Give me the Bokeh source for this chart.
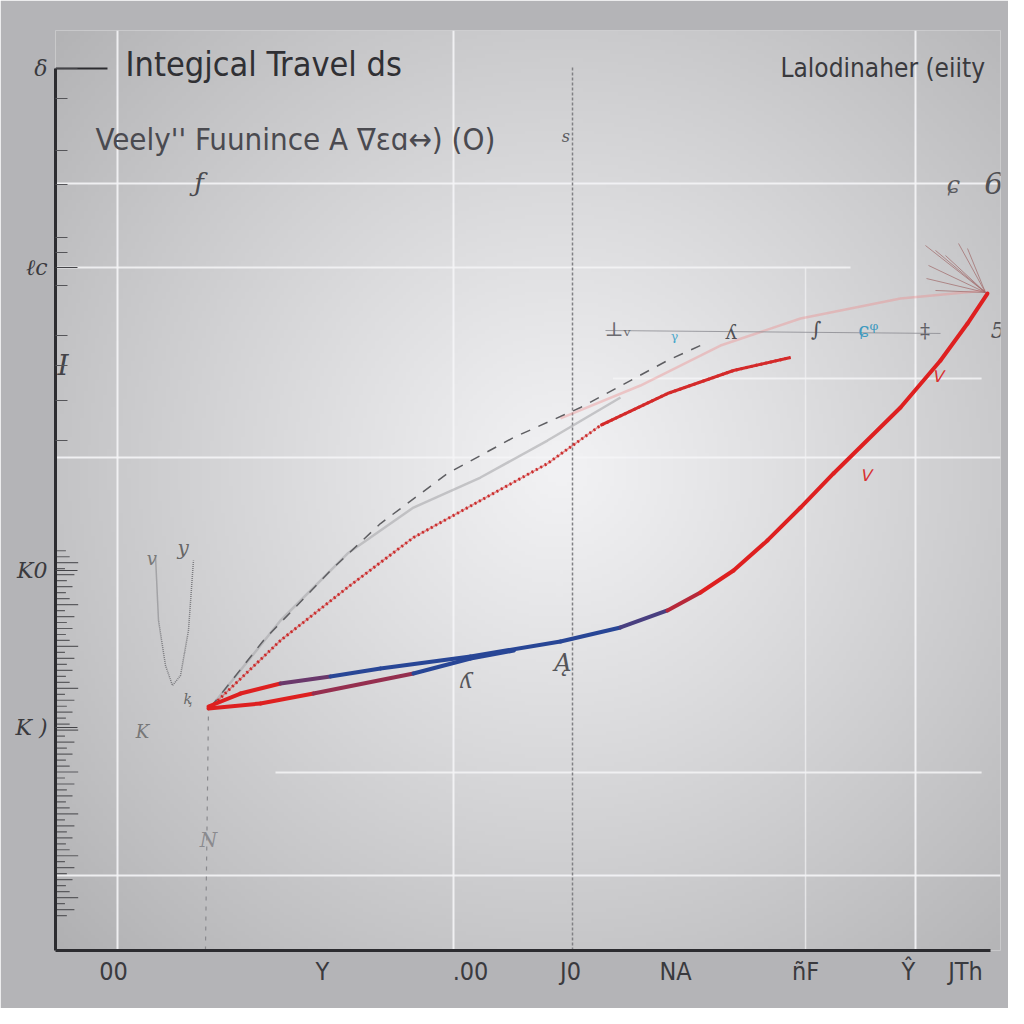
import numpy as np
from bokeh.plotting import figure
from bokeh.models import FixedTicker, Range1d, Label
from bokeh.core.properties import value
from bokeh.embed import file_html
from bokeh.resources import INLINE

# ---------------- data ----------------
# x tick positions / labels
x_ticks = [6.14, 28.25, 43.92, 54.50, 65.61, 79.37, 90.26, 96.30]
x_labels = ["00", "Y", ".00", "J0", "NA", "ñF", "Ŷ", "JTh"]
# y tick positions / labels
y_ticks = [95.87, 74.24, 41.30, 24.24]
y_labels = ["δ", "ℓc", "K0", "K )"]
y_minor_sparse = [92.61, 86.96, 83.26, 77.50, 75.87, 72.28, 66.85, 63.59, 59.78, 55.43]
# dense scale marks on the lower half of the y axis
y_dense = [round(3.80 + 0.65 * i, 2) for i in range(62)]

# grid
grid_x = [6.56, 42.12, 91.01]
grid_y = [83.37, 53.59, 8.15]

# main loop curve (upper strand) : red -> blue -> red
loop_a_x = [16.19, 19.58, 23.81, 29.10, 34.39, 43.92, 53.44, 59.79, 64.76, 68.25, 71.75, 75.34, 78.84, 82.33, 89.42, 93.65, 96.51, 98.62]
loop_a_y = [26.52, 27.93, 29.02, 29.78, 30.65, 31.96, 33.59, 35.11, 36.96, 38.91, 41.30, 44.57, 48.15, 51.85, 59.02, 64.13, 68.15, 71.41]
# lower strand
loop_b_x = [16.19, 21.69, 27.30, 37.88, 43.92, 48.50]
loop_b_y = [26.30, 26.85, 27.93, 30.11, 31.74, 32.60]

# red dotted arc
arc_x = [16.40, 23.81, 30.90, 37.88, 44.97, 52.06, 57.67, 64.76, 71.75, 77.78]
arc_y = [26.41, 33.70, 39.46, 44.89, 48.91, 52.93, 57.07, 60.54, 63.04, 64.46]
# pink faint arc
pink_x = [53.44, 61.90, 70.37, 78.84, 89.42, 98.41]
pink_y = [57.83, 61.41, 65.76, 68.70, 70.87, 71.74]
# gray dashed arc
dash_x = [16.40, 22.01, 29.10, 34.39, 41.48, 48.47, 55.56, 64.76, 68.25]
dash_y = [26.41, 33.70, 41.30, 46.41, 51.85, 55.76, 59.02, 64.13, 65.76]
# gray faint arc
gray_x = [16.40, 23.81, 30.90, 37.88, 44.97, 52.06, 59.79]
gray_y = [26.41, 35.87, 43.15, 48.15, 51.41, 55.43, 60.11]
# U-shaped sketch
u_x = [10.58, 10.90, 11.64, 12.38, 13.23, 14.07, 14.60]
u_y = [42.93, 35.87, 30.98, 28.80, 29.89, 34.78, 42.39]
# fan at the apex
fan_x0, fan_y0 = 98.41, 71.52
fan_x1 = [92.06, 93.12, 94.18, 95.56, 96.51, 92.38, 92.17, 93.12]
fan_y1 = [76.63, 76.09, 75.54, 76.85, 76.30, 74.46, 73.04, 71.74]

SANS = "DejaVu Sans Condensed"

# ---------------- figure ----------------
W = H = 1008
p = figure(width=W, height=H, output_backend="svg", toolbar_location=None,
           x_range=Range1d(0, 100), y_range=Range1d(0, 100),
           min_border_left=55, min_border_right=8, min_border_top=30, min_border_bottom=58)
p.background_fill_color = "#c8c8ca"
p.border_fill_color = "#b4b4b7"
p.outline_line_color = None

# radial background gradient (decoration)
nx = ny = 240
gx = np.linspace(0, 100, nx)
gy = np.linspace(0, 100, ny)
GX, GY = np.meshgrid(gx, gy)
PX = 55 + 9.45 * GX
PY = 950 - 9.2 * GY
r = np.sqrt((PX - 560) ** 2 + (PY - 470) ** 2)
v = np.clip(242 - 66 * (r / 700) ** 1.1, 150, 242)
img = np.empty((ny, nx), dtype=np.uint32)
view = img.view(dtype=np.uint8).reshape((ny, nx, 4))
view[:, :, 0] = v.astype(np.uint8)
view[:, :, 1] = v.astype(np.uint8)
view[:, :, 2] = np.clip(v + 2, 0, 255).astype(np.uint8)
view[:, :, 3] = 255
p.image_rgba(image=[img], x=0, y=0, dw=100, dh=100, level="image")

# grid
p.xgrid.ticker = FixedTicker(ticks=grid_x)
p.ygrid.ticker = FixedTicker(ticks=grid_y)
for g in (p.xgrid, p.ygrid):
    g.grid_line_color = "#f4f4f6"
    g.grid_line_width = 2
    g.grid_line_alpha = 0.9
# partial grid lines
p.segment(x0=[0, 23.28, 59.0], y0=[74.24, 19.35, 62.17],
          x1=[84.13, 98.0, 98.0], y1=[74.24, 19.35, 62.17],
          line_color="#f4f4f6", line_width=2, line_alpha=0.85)
p.segment(x0=[79.37], y0=[0], x1=[79.37], y1=[74.24], line_color="#f2f2f4", line_width=1.5, line_alpha=0.7)
# dark dashed vertical
p.segment(x0=[54.71], y0=[0], x1=[54.71], y1=[96.0], line_color="#808084", line_width=1.5, line_dash="3 2")
# dashed vertical from loop start
p.segment(x0=[15.87], y0=[0], x1=[16.19], y1=[26.3], line_color="#8a8a8e", line_width=1.2, line_dash="4 6")

# axes
p.xaxis.ticker = FixedTicker(ticks=x_ticks)
p.xaxis.major_label_overrides = {t: l for t, l in zip(x_ticks, x_labels)}
p.yaxis.ticker = FixedTicker(ticks=y_ticks, minor_ticks=y_minor_sparse)
p.yaxis.major_label_overrides = {t: l for t, l in zip(y_ticks, y_labels)}
for ax in (p.xaxis, p.yaxis):
    ax.axis_line_color = "#2c2c30"
    ax.axis_line_width = 3
    ax.major_label_text_color = "#3a3a3e"
    ax.major_label_text_font = SANS
    ax.major_label_text_font_size = "25px"
    ax.major_tick_out = 0
    ax.minor_tick_out = 0
p.xaxis.major_tick_in = 0
p.xaxis.minor_tick_line_color = None
p.xaxis.major_label_standoff = 6
p.xaxis.bounds = (0, 98.9)
p.yaxis.major_tick_in = 22
p.yaxis.minor_tick_in = 12
p.yaxis.major_tick_line_color = "#444448"
p.yaxis.minor_tick_line_color = "#555559"
p.yaxis.major_label_standoff = 8
p.yaxis.bounds = (0, 95.87)
p.yaxis.major_label_text_font = "DejaVu Serif"
p.yaxis.major_label_text_font_style = "italic"
p.yaxis.major_label_text_font_size = "22px"

# dense scale marks (drawn inside the frame, lengths alternate like a hand-made ruler)
tick_len = [1.2, 2.0, 1.0, 2.4, 1.5, 1.1, 1.8]
p.segment(x0=[0] * len(y_dense), y0=y_dense,
          x1=[tick_len[i % len(tick_len)] for i in range(len(y_dense))], y1=y_dense,
          line_color="#4a4a4e", line_width=1.2, line_alpha=0.85)

# top short line at the y-axis head
p.segment(x0=[0], y0=[95.87], x1=[5.5], y1=[95.87], line_color="#2c2c30", line_width=2)


def seg_colors(xs, lo_a, lo_b, hi_a, hi_b):
    red = np.array([222, 32, 32])
    blue = np.array([40, 70, 150])
    cols = []
    for i in range(len(xs) - 1):
        xm = 0.5 * (xs[i] + xs[i + 1])
        if xm < lo_a:
            t = 0.0
        elif xm < lo_b:
            t = (xm - lo_a) / (lo_b - lo_a)
        elif xm < hi_a:
            t = 1.0
        elif xm < hi_b:
            t = 1 - (xm - hi_a) / (hi_b - hi_a)
        else:
            t = 0.0
        c = (1 - t) * red + t * blue
        cols.append("#%02x%02x%02x" % tuple(int(k) for k in c))
    return cols


# gray guide arcs
p.line(gray_x, gray_y, line_color="#a8a8ac", line_width=2.5, line_alpha=0.6)
p.line(dash_x, dash_y, line_color="#5e5e62", line_width=1.5, line_dash="10 9")
# pink faint arc
p.line(pink_x, pink_y, line_color="#ee8c8c", line_width=2.5, line_alpha=0.4)
# red dotted arc
p.line(arc_x, arc_y, line_color="#d83a3a", line_width=1.5, line_alpha=0.5)
p.line(arc_x, arc_y, line_color="#c82020", line_width=3, line_dash="2 3", line_alpha=0.9)
p.line(arc_x[-4:], arc_y[-4:], line_color="#d42a2a", line_width=3)

# main loop
ca = seg_colors(loop_a_x, 22, 29, 61, 68)
p.segment(x0=loop_a_x[:-1], y0=loop_a_y[:-1], x1=loop_a_x[1:], y1=loop_a_y[1:],
          line_color=ca, line_width=4, line_cap="round")
cb = seg_colors(loop_b_x, 29, 38, 200, 201)
p.segment(x0=loop_b_x[:-1], y0=loop_b_y[:-1], x1=loop_b_x[1:], y1=loop_b_y[1:],
          line_color=cb, line_width=4, line_cap="round")

# fan at apex
p.segment(x0=[fan_x0] * len(fan_x1), y0=[fan_y0] * len(fan_y1), x1=fan_x1, y1=fan_y1,
          line_color="#a06868", line_width=1, line_alpha=0.7)

# U sketch
p.line(u_x, u_y, line_color="#7a7a7e", line_width=1.5, line_dash="1 1")

# scribble line on the right
p.line([58.2, 93.65], [67.39, 67.07], line_color="#8a8a90", line_width=1, line_alpha=0.8)
p.text(x=[59.5, 65.5, 71.5, 80.5, 86.0, 92.0], y=[67.6, 66.4, 67.2, 67.6, 67.4, 67.3],
       text=["⊥ᵥ", "ᵞ", "ʎ", "∫", "ɕᵠ", "‡"],
       text_color=["#6a6a70", "#4aa8cc", "#505055", "#505055", "#3e9ac0", "#606066"],
       text_font=value("DejaVu Serif"), text_font_size=value("20px"),
       text_align="center", text_baseline="middle")

# handwritten-like marks
p.text(x=[15.2, 99.3, 99.7, 95.0, 54.0, 0.8, 43.5, 53.7, 16.2, 14.0, 9.2, 13.5, 10.2, 85.7, 93.3],
       y=[83.4, 83.4, 67.4, 83.2, 88.5, 63.6, 29.4, 31.2, 12.0, 27.3, 23.8, 43.8, 42.6, 51.6, 62.4],
       text=["ƒ", "6", "5", "ɕ", "s", "I", "ʎ", "Ą", "N", "ⱪ", "K", "y", "v", "ᐯ", "ᐯ"],
       text_color=["#4a4a4e", "#505054", "#505054", "#5a5a5e", "#5a5a5e", "#444448", "#555559",
                   "#555559", "#8a8a8e", "#666", "#777", "#666", "#777", "#d83030", "#d83030"],
       text_font=value("DejaVu Serif"), text_font_style="italic",
       text_font_size=["26px", "30px", "22px", "24px", "16px", "28px", "22px", "24px",
                       "20px", "14px", "18px", "20px", "18px", "16px", "16px"],
       text_align="center", text_baseline="middle")

# titles
p.text(x=[7.41], y=[96.41], text=["Integjcal Travel ds"], text_color="#303034",
       text_font=value(SANS), text_font_size=value("34px"),
       text_align="left", text_baseline="middle")
p.text(x=[4.23], y=[88.26], text=["Veely'' Fuunince A ∇ɛɑ↔) (O)"], text_color="#4a4a50",
       text_font=value(SANS), text_font_size=value("31px"),
       text_align="left", text_baseline="middle")
p.text(x=[76.72], y=[95.87], text=["Lalodinaher (eiity"], text_color="#3a3a3e",
       text_font=value(SANS), text_font_size=value("26px"),
       text_align="left", text_baseline="middle")

# origin label outside the frame
p.add_layout(Label(x=-2.65, y=-2.17, text="3ɵ", text_color="#3a3a3e",
                   text_font="DejaVu Serif", text_font_size="22px",
                   text_align="center", text_baseline="middle"))

open("out.html", "w").write(file_html(p, INLINE))
